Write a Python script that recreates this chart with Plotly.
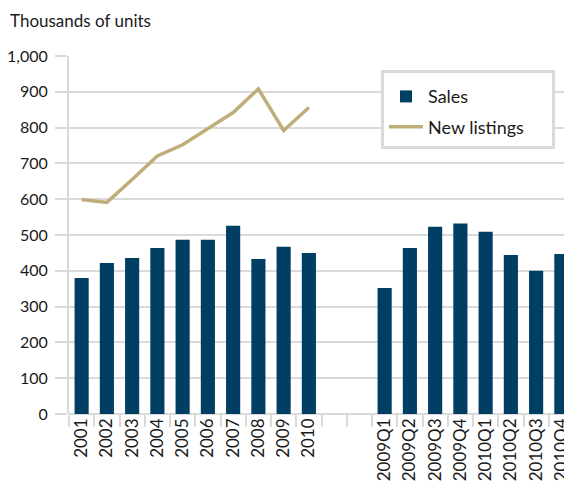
import plotly.graph_objects as go

categories = ["2001", "2002", "2003", "2004", "2005", "2006", "2007", "2008", "2009", "2010",
              " ", "  ",
              "2009Q1", "2009Q2", "2009Q3", "2009Q4", "2010Q1", "2010Q2", "2010Q3", "2010Q4"]
sales = [380, 422, 436, 464, 487, 487, 526, 433, 467, 450,
         None, None,
         352, 464, 523, 532, 509, 444, 400, 447]
line_categories = ["2001", "2002", "2003", "2004", "2005", "2006", "2007", "2008", "2009", "2010"]
new_listings = [599, 591, 655, 721, 752, 798, 842, 908, 792, 856]

NAVY = "#003f63"
KHAKI = "#bfae7a"
GRID = "#dadada"
FONT = "Lato"

# figure is placed by the page at an 8px offset (body margin)
W, H = 564, 489
L, T, B = 61, 48, 83
PW, PH = W - L, H - T - B

fig = go.Figure()
fig.add_trace(go.Bar(x=categories, y=sales, name="Sales", legendgroup="a",
                     marker=dict(color=NAVY, line=dict(width=0)), width=0.56))
fig.add_trace(go.Scatter(x=line_categories, y=new_listings,
                         name="New listings&nbsp;&nbsp;&nbsp;&nbsp;&nbsp;",
                         legendgroup="b", mode="lines", line=dict(color=KHAKI, width=3.5)))

fig.update_layout(
    width=W, height=H,
    margin=dict(l=L, r=0, t=T, b=B, autoexpand=False),
    plot_bgcolor="white", paper_bgcolor="white",
    font=dict(family=FONT, size=18, color="#1a1a1a"),
    showlegend=True,
    legend=dict(x=(373 - L) / PW, y=(T + PH - 62) / PH, xanchor="left", yanchor="top",
                bordercolor=GRID, borderwidth=3, bgcolor="white",
                title=dict(text=" ", font=dict(size=4)),
                font=dict(size=18, family=FONT), traceorder="grouped", tracegroupgap=4,
                itemwidth=34),
)
fig.add_annotation(text="Thousands of units", xref="paper", yref="paper",
                   x=-L / PW, y=1 + T / PH, xanchor="left", yanchor="top",
                   showarrow=False, font=dict(size=17, family=FONT))

fig.update_xaxes(type="category", categoryorder="array", categoryarray=categories,
                 range=[-0.5, -0.5 + PW / 25.25], tickangle=-90, tickson="boundaries",
                 automargin=False,
                 ticks="outside", ticklen=12, tickwidth=2, tickcolor=GRID,
                 showgrid=False, showline=False, zeroline=False,
                 tickfont=dict(size=17, family=FONT))
fig.update_yaxes(range=[0, 1000], dtick=100, tickformat=",", automargin=False,
                 showgrid=True, gridcolor=GRID, gridwidth=2,
                 ticks="outside", ticklen=12, tickwidth=2, tickcolor=GRID,
                 showline=True, linecolor=GRID, linewidth=2,
                 zeroline=True, zerolinecolor=GRID, zerolinewidth=2,
                 ticklabelstandoff=4,
                 tickfont=dict(size=16, family=FONT))

fig.write_html("out.html")
